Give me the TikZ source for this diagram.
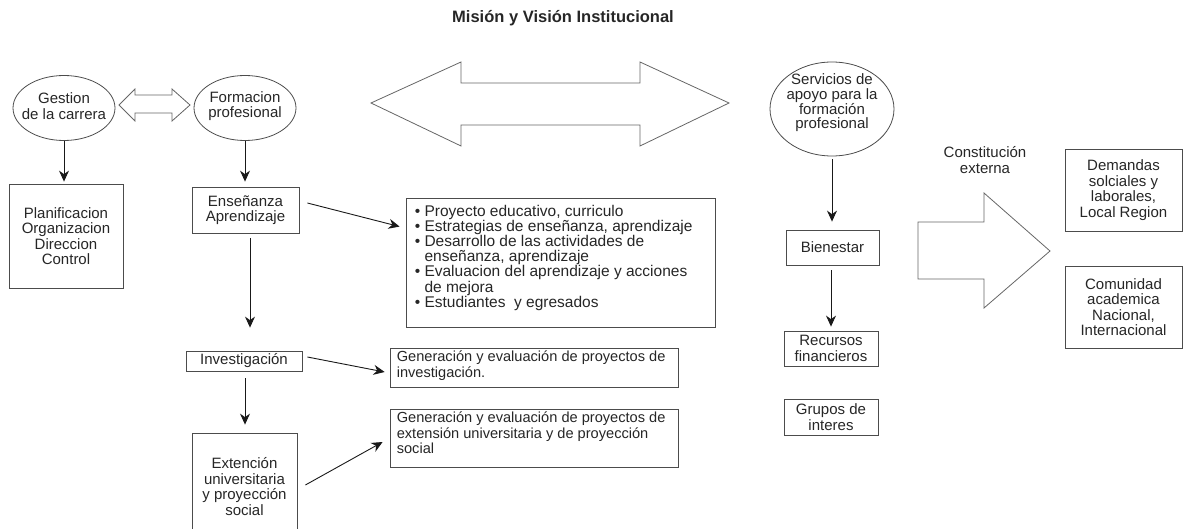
\documentclass[tikz,border=0pt]{standalone}
\usepackage{fontspec}
\setmainfont{Liberation Sans}
\usetikzlibrary{arrows.meta,shapes.geometric,calc}
\begin{document}
\begin{tikzpicture}[x=1pt,y=-1pt,
  every node/.style={text=black!85, font=\fontsize{15}{15.5}\selectfont, align=center, inner sep=0pt},
  box/.style={draw=black!70, line width=0.8pt, rectangle},
  oval/.style={draw=black!70, line width=0.8pt, ellipse},
  arr/.style={-{Stealth[length=11pt,width=10pt]}, line width=0.9pt, draw=black!90},
  blockarrow/.style={draw=black!60, line width=0.8pt, fill=white},
  bultext/.style={font=\fontsize{15.5}{14.2}\selectfont, align=left, anchor=north west},
  gentext/.style={font=\fontsize{14.6}{15.5}\selectfont, align=left, anchor=north west}
]
\useasboundingbox (0,0) rectangle (1184,529);
\clip (0,0) rectangle (1184,529);

\node[font=\bfseries\fontsize{16.5}{18}\selectfont] (title) at (563,18) {Misión y Visión Institucional};

% ellipses
\node[oval, minimum width=102, minimum height=65] (gest) at (64,108) {};
\node (gestT) at (64,106) {Gestion\\de la carrera};
\node[oval, minimum width=102, minimum height=65] (form) at (245,108) {};
\node (formT) at (245,106) {Formacion\\profesional};
\node[oval, minimum width=124, minimum height=94] (serv) at (832,109) {};
\node[font=\fontsize{15}{14.7}\selectfont] (servT) at (832,103) {Servicios de\\apoyo para la\\formación\\profesional};

% block arrows
\draw[blockarrow] (119,105) -- (135,89) -- (135,95) -- (172,95) -- (172,89) -- (190,105)
  -- (172,121) -- (172,113) -- (135,113) -- (135,121) -- cycle;
\draw[blockarrow] (371,103) -- (461,62) -- (461,83) -- (640,83) -- (640,62) -- (729,103)
  -- (640,146) -- (640,125) -- (461,125) -- (461,146) -- cycle;
\draw[blockarrow] (918,222) -- (984,222) -- (984,193) -- (1050,251) -- (984,308)
  -- (984,279) -- (918,279) -- cycle;

% boxes
\node[box, minimum width=114, minimum height=104] (plan) at (66,236) {Planificacion\\Organizacion\\Direccion\\Control};
\node[box, minimum width=107, minimum height=46] (ens) at (245.5,210) {Enseñanza\\Aprendizaje};
\node[box, minimum width=309, minimum height=129] (bul) at (560.5,262.5) {};
\node[bultext] (bulT) at ([xshift=9pt,yshift=-7pt]bul.north west) {%
• Proyecto educativo, curriculo\\
• Estrategias de enseñanza, aprendizaje\\
• Desarrollo de las actividades de\\
\phantom{•\ }enseñanza, aprendizaje\\
• Evaluacion del aprendizaje y acciones\\
\phantom{•\ }de mejora\\
• Estudiantes\ \ y egresados};
\node[box, minimum width=116, minimum height=20] (inv) at (244,361) {Investigación};
\node[box, minimum width=288, minimum height=39] (gen1) at (534,367.5) {};
\node[gentext] (gen1T) at ([xshift=7pt,yshift=-3pt]gen1.north west) {Generación y evaluación de proyectos de\\investigación.};
\node[box, minimum width=288, minimum height=58] (gen2) at (534,438) {};
\node[gentext] (gen2T) at ([xshift=7pt,yshift=-3pt]gen2.north west) {Generación y evaluación de proyectos de\\extensión universitaria y de proyección\\social};
\node[box, minimum width=105, minimum height=107] (ext) at (244.5,486.5) {Extención\\universitaria\\y proyección\\social};
\node[box, minimum width=93, minimum height=35] (bien) at (832.5,247.5) {Bienestar};
\node[box, minimum width=94, minimum height=35] (rec) at (831,348.5) {Recursos\\financieros};
\node[box, minimum width=94, minimum height=36] (grup) at (831,417) {Grupos de\\interes};
\node[box, minimum width=117, minimum height=82] (dem) at (1123.5,190) {Demandas\\solciales y\\laborales,\\Local Region};
\node[box, minimum width=117, minimum height=82] (com) at (1123.5,307) {Comunidad\\academica\\Nacional,\\Internacional};
\node (const) at (985,160) {Constitución\\externa};

% connectors
\draw[arr, shorten >=2pt] (gest.south) -- (gest.south |- plan.north);
\draw[arr, shorten >=5pt] (form.south) -- (form.south |- ens.north);
\draw[arr, shorten <=5pt, shorten >=23pt] ([xshift=4.5pt]ens.south) -- ([xshift=4.5pt]ens.south |- inv.north);
\draw[arr, shorten <=7pt, shorten >=8pt] ([xshift=1pt]inv.south) -- ([xshift=1pt]inv.south |- ext.north);
\draw[arr, shorten <=3pt, shorten >=8pt] (serv.south) -- (serv.south |- bien.north);
\draw[arr, shorten <=5pt, shorten >=4pt] ([xshift=-1.5pt]bien.south) -- ([xshift=-1.5pt]bien.south |- rec.north);
\draw[arr] ([xshift=8pt,yshift=7pt]ens.east) -- ([xshift=-6pt,yshift=-29pt]bul.north west);
\draw[arr] ([xshift=5pt,yshift=4pt]inv.east) -- ([xshift=-5pt,yshift=-4.5pt]gen1.west);
\draw[arr] ([xshift=8pt,yshift=1.5pt]ext.east) -- ([xshift=-7pt,yshift=-4pt]gen2.west);
\end{tikzpicture}
\end{document}
